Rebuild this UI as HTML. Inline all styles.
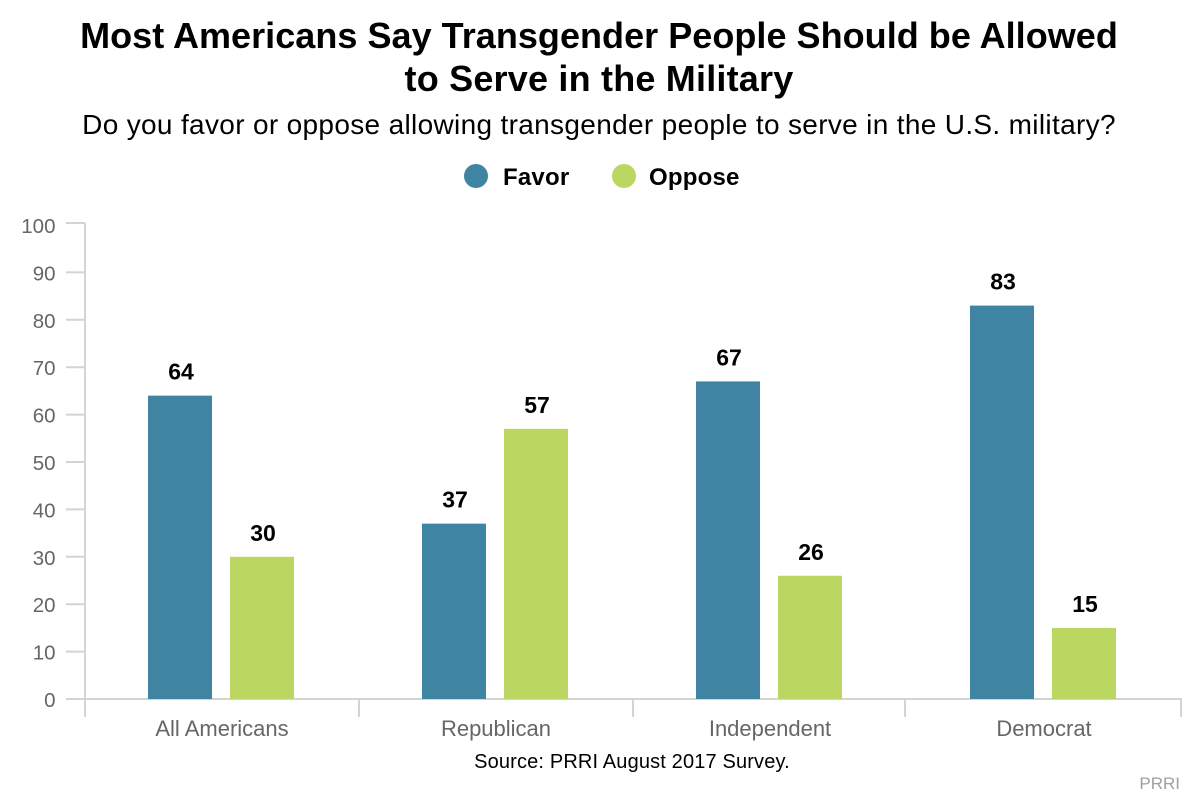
<!DOCTYPE html>
<html lang="en">
<head>
<meta charset="utf-8">
<title>Most Americans Say Transgender People Should be Allowed to Serve in the Military</title>
<style>
html,body{margin:0;padding:0;background:#fff;}
svg{display:block;font-family:"Liberation Sans",Arial,sans-serif;}
</style>
</head>
<body>
<svg id="chart" xmlns="http://www.w3.org/2000/svg" width="1200" height="800" viewBox="0 0 1200 800">
  <rect x="0" y="0" width="1200" height="800" fill="#ffffff"/>
  <text x="599" y="48" text-anchor="middle" font-size="36" letter-spacing="0.04" font-weight="700" fill="#000">Most Americans Say Transgender People Should be Allowed</text>
  <text x="599" y="91" text-anchor="middle" font-size="36" letter-spacing="0.2" font-weight="700" fill="#000">to Serve in the Military</text>
  <text x="599" y="134" text-anchor="middle" font-size="28" letter-spacing="0.33" fill="#000">Do you favor or oppose allowing transgender people to serve in the U.S. military?</text>
  <g>
    <g>
      <circle cx="476" cy="176" r="12" fill="#3f84a3"/>
      <text x="503" y="185" font-size="24" letter-spacing="0.2" font-weight="700" fill="#000">Favor</text>
    </g>
    <g>
      <circle cx="624" cy="176" r="12" fill="#bbd761"/>
      <text x="649" y="185" font-size="24" letter-spacing="0.2" font-weight="700" fill="#000">Oppose</text>
    </g>
  </g>
  <g id="y-axis"></g>
  <g id="x-axis"></g>
  <g id="bars"></g>
  <g id="values"></g>
  <text x="632" y="768" text-anchor="middle" font-size="20" letter-spacing="0.15" fill="#000">Source: PRRI August 2017 Survey.</text>
  <text x="1180" y="789" text-anchor="end" font-size="17" fill="#a0a0a0">PRRI</text>
</svg>
<script>
const categories = ["All Americans", "Republican", "Independent", "Democrat"];
const favorValues = [64, 37, 67, 83];
const opposeValues = [30, 57, 26, 15];
const yTicks = [0, 10, 20, 30, 40, 50, 60, 70, 80, 90, 100];

const NS = "http://www.w3.org/2000/svg";
const axisColor = "#d4d4d4";
const baseY = 699, unitY = 4.74, axisTopY = 223;
const bandStart = 85, bandStep = 274, barWidth = 64, favorOffset = 63, opposeOffset = 145;

function yScale(v) { return baseY - v * unitY; }
function bandX(i) { return bandStart + i * bandStep; }
function make(tag, attrs, text) {
  const el = document.createElementNS(NS, tag);
  for (const k in attrs) el.setAttribute(k, attrs[k]);
  if (text !== undefined) el.textContent = text;
  return el;
}

const yAxis = document.getElementById("y-axis");
const xAxis = document.getElementById("x-axis");
const barsG = document.getElementById("bars");
const valuesG = document.getElementById("values");

const yLine = make("line", {x1: bandStart, x2: bandStart, y1: axisTopY, y2: baseY + 18, stroke: axisColor, "stroke-width": 2});


yAxis.appendChild(yLine);

yTicks.forEach(function (t) {
  const y = t === yTicks[yTicks.length - 1] ? axisTopY : yScale(t);
  const tick = make("line", {x1: bandStart - 19, x2: bandStart, y1: y, y2: y, stroke: axisColor, "stroke-width": 2});
  
  
  yAxis.appendChild(tick);
  const label = make("text", {x: 55.5, y: yScale(t) + 8, "text-anchor": "end", "font-size": 20.5, fill: "#666666"}, String(t));
  
  
  yAxis.appendChild(label);
});

const xLine = make("line", {x1: bandStart - 19, x2: bandX(categories.length) + 1, y1: baseY, y2: baseY, stroke: axisColor, "stroke-width": 2});


xAxis.appendChild(xLine);

for (let i = 0; i <= categories.length; i++) {
  const tx = i === 3 ? bandX(i) - 2 : bandX(i);
  const tick = make("line", {x1: tx, x2: tx, y1: baseY, y2: baseY + 18, stroke: axisColor, "stroke-width": 2});
  
  
  xAxis.appendChild(tick);
}

categories.forEach(function (c, i) {
  const label = make("text", {x: bandX(i) + 137, y: 736, "text-anchor": "middle", "font-size": 22, fill: "#666666"}, c);
  
  
  xAxis.appendChild(label);

  const fy = yScale(favorValues[i]);
  const fx = bandX(i) + favorOffset;
  const fb = make("rect", {x: fx, y: fy, width: barWidth, height: baseY - fy, fill: "#3f84a3"});
  
  
  barsG.appendChild(fb);
  const fv = make("text", {x: fx + barWidth / 2 + 1, y: fy - 16, "text-anchor": "middle", "font-size": 23, "font-weight": 700, fill: "#000"}, String(favorValues[i]));
  
  
  valuesG.appendChild(fv);

  const oy = yScale(opposeValues[i]);
  const ox = bandX(i) + opposeOffset;
  const ob = make("rect", {x: ox, y: oy, width: barWidth, height: baseY - oy, fill: "#bbd761"});
  
  
  barsG.appendChild(ob);
  const ov = make("text", {x: ox + barWidth / 2 + 1, y: oy - 16, "text-anchor": "middle", "font-size": 23, "font-weight": 700, fill: "#000"}, String(opposeValues[i]));
  
  
  valuesG.appendChild(ov);
});
</script>
</body>
</html>
